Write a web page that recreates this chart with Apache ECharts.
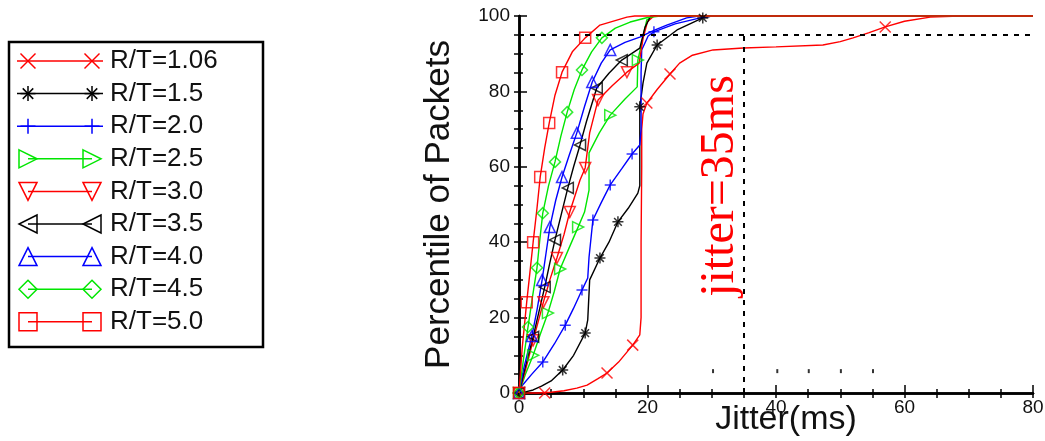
<!DOCTYPE html>
<html>
<head>
<meta charset="utf-8">
<script src="https://cdn.jsdelivr.net/npm/echarts@6/dist/echarts.min.js"></script>
<style>
html, body { margin: 0; padding: 0; background: #fff; }
#main { width: 1045px; height: 441px; }
</style>
</head>
<body>
<div id="main"></div>
<script>
// ---- data ----
const seriesNames = ['R/T=1.06', 'R/T=1.5', 'R/T=2.0', 'R/T=2.5', 'R/T=3.0', 'R/T=3.5', 'R/T=4.0', 'R/T=4.5', 'R/T=5.0'];
const xTicks = [0, 20, 40, 60, 80];
const yTicks = [0, 20, 40, 60, 80, 100];

// CDF curves, [jitter ms, percentile]
const curve106 = [[0,0],[3,0],[5,0.2],[7,0.6],[9,1.3],[10.6,2.1],[12.3,3.8],[13.7,5.3],[15.5,8.2],[17.7,12.7],[18.8,15.4],[19,20],[19,40],[19.1,60],[19.1,70],[19.3,74],[19.9,76.9],[21.5,80.5],[23.5,84.6],[25,87.5],[27,89.6],[30.2,91],[34.9,91.5],[40,91.8],[47.3,92.3],[50,93.2],[52,94.2],[54.5,95.6],[57,97.1],[60,98.6],[64,99.7],[68.6,100],[80,100]];
const curve15 = [[0,0],[1,0.3],[2.2,0.8],[3.5,1.8],[5,3.2],[6.8,6.1],[8.5,10],[10.3,15.9],[10.7,19.4],[11,30],[12.6,35.8],[14,40],[15.4,45.4],[17,49],[18.5,53],[18.8,55],[18.8,75.9],[19.3,82.2],[19.9,87.5],[21.5,92.3],[24.6,96.3],[28.6,99.5],[30,100],[80,100]];
const curve20 = [[0,0],[0.5,2],[2,5],[3.7,8.2],[5.5,13],[7.2,18],[8.5,22.5],[9.8,27.3],[10.7,30.5],[10.9,36],[11.5,45.9],[12.8,50.5],[14.2,55.2],[16,59.5],[17.6,63.4],[18.8,65.8],[19,70],[19,85],[19.1,91],[20.1,94.7],[21,95.8],[24.3,97.9],[28.2,99.5],[30,100],[80,100]];
const curve25 = [[0,0],[1,5],[2.2,10],[3.3,15.5],[4.5,21.2],[5.5,27],[6.4,32.9],[7.8,38.5],[9.2,44],[10.2,48],[10.9,53.8],[10.9,63.7],[12.5,69],[14.2,73.7],[16.5,78],[18.4,81.2],[18.5,88.3],[19.3,94.4],[19.9,99],[21,100],[80,100]];
const curve30 = [[0,0],[1,6],[2.2,14],[3,19],[3.8,24.1],[4.8,30],[5.9,35.8],[7,42],[7.9,48],[9.5,56.5],[10.3,59.7],[11,69],[12.3,77.7],[14.5,81.5],[16.8,85.1],[18.7,87.5],[19.3,94],[20,98.5],[21,100],[80,100]];
const curve35 = [[0,0],[1,7],[2.2,14.9],[3.1,21.5],[4,28.1],[4.8,34.5],[5.6,40.6],[6.6,47.5],[7.6,54.4],[8.5,60],[9.5,65.8],[10.5,72],[12.1,80.9],[14,84.8],[16,88.3],[18.8,91.5],[19.6,97],[20.5,100],[80,100]];
const curve40 = [[0,0],[0.8,7],[2,15.1],[2.8,22],[3.6,30],[4.2,37],[4.8,44],[5.7,51],[6.7,57.3],[7.8,63],[9,69],[10.2,76],[11.4,82.5],[12.8,87.5],[14.2,91],[16.5,93],[18.8,94.4],[21,96.2],[23,97.6],[26.1,99.5],[28,100],[80,100]];
const curve45 = [[0,0],[0.7,9],[1.4,17.5],[2.1,25.5],[2.8,33.2],[3.2,40],[3.7,47.7],[4.6,55],[5.6,61.3],[6.5,68],[7.5,74.5],[8.6,80.5],[9.8,85.7],[11.3,90.5],[12.9,94.2],[15,96.8],[17.3,98.4],[20,99.6],[22,100],[80,100]];
const curve50 = [[0,0],[0.5,12],[1.2,24.1],[1.7,32],[2.2,40],[2.8,49],[3.3,57.3],[4,65],[4.7,71.6],[5.6,79],[6.7,85.1],[8.3,90.5],[10.3,94.2],[12.6,97.6],[16.8,99.7],[18,100],[80,100]];

// marker positions on each curve
const marks106 = [[4,0],[13.7,5.3],[17.7,12.7],[19.9,76.9],[23.5,84.6],[57,97.1]];
const marks15 = [[6.8,6.1],[10.3,15.9],[12.6,35.8],[15.4,45.4],[18.8,75.9],[21.5,92.3],[28.6,99.5]];
const marks20 = [[3.7,8.2],[7.2,18],[9.8,27.3],[11.5,45.9],[14.2,55.2],[17.6,63.4],[21,95.8]];
const marks25 = [[0,0],[2.2,10],[4.5,21.2],[6.4,32.9],[9.2,44],[14.2,73.7],[18.5,88.3]];
const marks30 = [[0,0],[2.2,14],[3.8,24.1],[5.9,35.8],[7.9,48],[10.3,59.7],[12.3,77.7],[16.8,85.1]];
const marks35 = [[0,0],[2.2,14.9],[4,28.1],[5.6,40.6],[7.6,54.4],[9.5,65.8],[12.1,80.9],[16,88.3]];
const marks40 = [[0,0],[2,15.1],[3.6,30],[4.8,44],[6.7,57.3],[9,69],[11.4,82.5],[14.2,91]];
const marks45 = [[0,0],[1.4,17.5],[2.8,33.2],[3.7,47.7],[5.6,61.3],[7.5,74.5],[9.8,85.7],[12.9,94.2]];
const marks50 = [[0,0],[1.2,24.1],[2.2,40],[3.3,57.3],[4.7,71.6],[6.7,85.1],[10.3,94.2]];

// reference lines: 95th percentile and jitter = 35 ms
const refPercentile = 95;
const refJitter = 35;
// small stray tick marks near the bottom of the plot
const strayTicks = [[30.2,5.8],[40.2,5.8],[45.1,5.8],[50.1,5.8],[55.1,5.8]];

const curves = [curve106, curve15, curve20, curve25, curve30, curve35, curve40, curve45, curve50];
const marks = [marks106, marks15, marks20, marks25, marks30, marks35, marks40, marks45, marks50];

// ---- styling ----
const RED = '#ff0000', BLACK = '#000000', BLUE = '#0000ff', GREEN = '#00e600';
const colors = [RED, BLACK, BLUE, GREEN, RED, BLACK, BLUE, GREEN, RED];
// marker shapes in a unit box: open strokes (segments) or closed outlines (polygon)
const shapes = [
  { seg: [[0,0,1,1],[1,0,0,1]] },
  { seg: [[.5,0,.5,1],[0,.5,1,.5],[.15,.15,.85,.85],[.85,.15,.15,.85]] },
  { seg: [[.5,0,.5,1],[0,.5,1,.5]] },
  { poly: [[0,0],[1,.5],[0,1]] },
  { poly: [[0,0],[1,0],[.5,1]] },
  { poly: [[1,0],[0,.5],[1,1]] },
  { poly: [[.5,0],[1,1],[0,1]] },
  { poly: [[.5,0],[1,.5],[.5,1],[0,.5]] },
  { poly: [[0,0],[1,0],[1,1],[0,1]] }
];
function symbolPath(s) {
  const k = 10;
  if (s.seg) return 'path://' + s.seg.map(function (g) {
    return 'M' + g[0] * k + ' ' + g[1] * k + 'L' + g[2] * k + ' ' + g[3] * k;
  }).join('');
  return 'path://' + s.poly.map(function (p, j) {
    return (j ? 'L' : 'M') + p[0] * k + ' ' + p[1] * k;
  }).join('') + 'Z';
}
const FONT = '"Liberation Sans", Arial, sans-serif';

const chart = echarts.init(document.getElementById('main'), null, { renderer: 'canvas' });

const series = [];
curves.forEach(function (c, i) {
  series.push({
    name: seriesNames[i],
    type: 'line',
    data: c,
    showSymbol: false,
    clip: false,
    silent: true,
    lineStyle: { color: colors[i], width: 1.4 },
    z: 3
  });
});
marks.forEach(function (m, i) {
  series.push({
    name: seriesNames[i],
    type: 'scatter',
    data: m,
    symbol: symbolPath(shapes[i]),
    symbolSize: 11,
    clip: false,
    silent: true,
    itemStyle: { color: 'rgba(0,0,0,0)', borderColor: colors[i], borderWidth: 1.5 },
    z: 4
  });
});
series.push({
  type: 'scatter',
  data: strayTicks,
  symbol: 'rect',
  symbolSize: [2, 4],
  silent: true,
  itemStyle: { color: BLACK },
  markLine: {
    silent: true,
    symbol: 'none',
    label: { show: false },
    lineStyle: { color: BLACK, type: [5, 6], width: 2 },
    data: [
      [{ coord: [0, refPercentile] }, { coord: [80, refPercentile] }],
      [{ coord: [refJitter, 0] }, { coord: [refJitter, refPercentile] }]
    ]
  },
  z: 2
});

// legend drawn as graphics
const legendItems = [{
  type: 'rect',
  shape: { x: 9, y: 42, width: 254, height: 305 },
  style: { fill: 'none', stroke: BLACK, lineWidth: 2.5 }
}];
seriesNames.forEach(function (n, i) {
  const cy = 61 + i * 32.6;
  const s = shapes[i];
  const hollow = !!s.poly;
  const sz = hollow ? 18 : 15;
  legendItems.push({
    type: 'line',
    shape: { x1: hollow ? 28 : 17, y1: cy, x2: hollow ? 92 : 103, y2: cy },
    style: { stroke: colors[i], lineWidth: 1.5 }
  });
  [28, 92].forEach(function (cx) {
    const x0 = cx - sz / 2, y0 = cy - sz / 2;
    if (hollow) {
      legendItems.push({
        type: 'polygon',
        shape: { points: s.poly.map(function (p) { return [x0 + p[0] * sz, y0 + p[1] * sz]; }) },
        style: { fill: 'none', stroke: colors[i], lineWidth: 1.5 }
      });
    } else {
      s.seg.forEach(function (g) {
        legendItems.push({
          type: 'line',
          shape: { x1: x0 + g[0] * sz, y1: y0 + g[1] * sz, x2: x0 + g[2] * sz, y2: y0 + g[3] * sz },
          style: { stroke: colors[i], lineWidth: 1.5 }
        });
      });
    }
  });
  legendItems.push({
    type: 'text',
    x: 110, y: cy,
    style: { text: n, fill: '#111', fontSize: 26, fontFamily: FONT, verticalAlign: 'middle', align: 'left' }
  });
});
legendItems.push({
  type: 'text',
  x: 720, y: 186,
  rotation: Math.PI / 2,
  style: { text: 'jitter=35ms', fill: RED, fontSize: 48, fontFamily: '"Liberation Serif", "Times New Roman", serif', align: 'center', verticalAlign: 'middle' }
});

const axisLine = { show: true, lineStyle: { color: BLACK, width: 2.5 } };

chart.setOption({
  animation: false,
  grid: { left: 519, right: 12, top: 16, bottom: 48, containLabel: false, outerBoundsMode: 'none' },
  xAxis: [{
    type: 'value', min: xTicks[0], max: xTicks[xTicks.length - 1], interval: 20,
    position: 'bottom',
    name: 'Jitter(ms)', nameLocation: 'middle', nameGap: 10, nameMoveOverlap: false,
    nameTextStyle: { color: '#111', fontSize: 34, fontFamily: FONT, verticalAlign: 'top', padding: [0, 0, 0, 20] },
    axisLine: axisLine,
    axisTick: { inside: true, length: 8, lineStyle: { color: BLACK, width: 1.5 } },
    minorTick: { show: true, splitNumber: 4, length: 4, lineStyle: { color: BLACK, width: 1.5 } },
    axisLabel: { color: '#111', fontSize: 19, fontFamily: FONT, margin: 5 },
    splitLine: { show: false }
  }, {
    type: 'value', min: 0, max: 80, interval: 5, position: 'top',
    axisLine: axisLine,
    axisTick: { inside: true, length: 5, lineStyle: { color: BLACK, width: 1.5 } },
    axisLabel: { show: false },
    splitLine: { show: false }
  }],
  yAxis: [{
    type: 'value', min: yTicks[0], max: yTicks[yTicks.length - 1], interval: 20,
    position: 'left',
    name: 'Percentile of Packets', nameLocation: 'middle', nameGap: 62, nameMoveOverlap: false,
    nameTextStyle: { color: '#111', fontSize: 35, fontFamily: FONT },
    axisLine: axisLine,
    axisTick: { inside: true, length: 8, lineStyle: { color: BLACK, width: 1.5 } },
    minorTick: { show: true, splitNumber: 4, length: 4, lineStyle: { color: BLACK, width: 1.5 } },
    axisLabel: { color: '#111', fontSize: 19, fontFamily: FONT, margin: 9 },
    splitLine: { show: false }
  }, {
    type: 'value', min: 0, max: 100, interval: 5, position: 'right',
    axisLine: axisLine,
    axisTick: { inside: true, length: 5, lineStyle: { color: BLACK, width: 1.5 } },
    axisLabel: { show: false },
    splitLine: { show: false }
  }],
  graphic: legendItems,
  series: series
});
</script>
</body>
</html>
